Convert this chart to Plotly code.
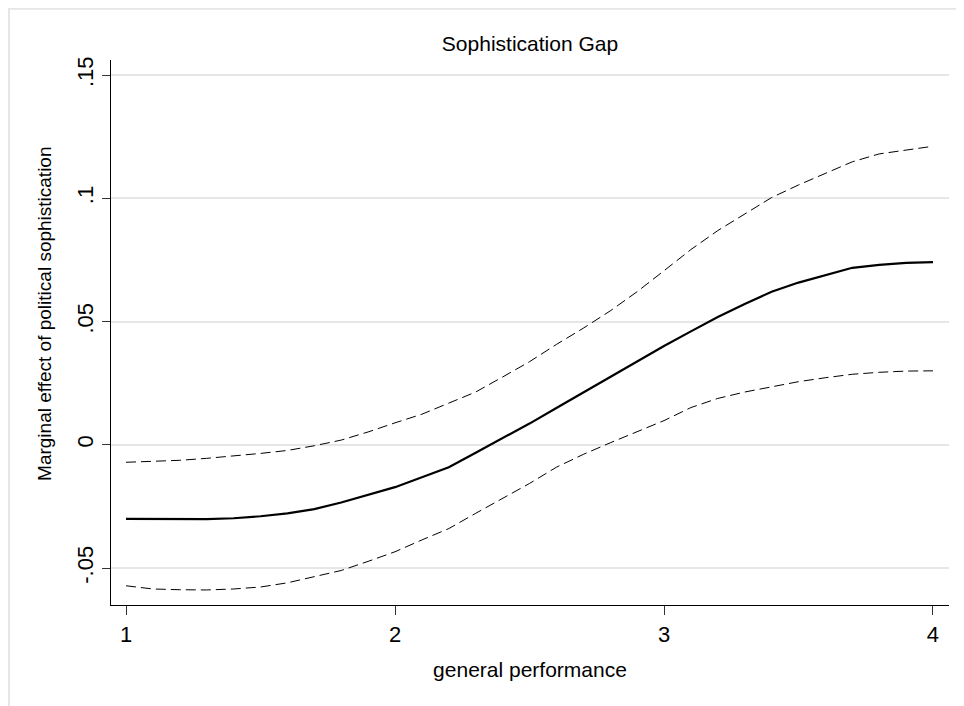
import plotly.graph_objects as go

performance = [1.0, 1.1, 1.2, 1.3, 1.4, 1.5, 1.6, 1.7, 1.8, 1.9, 2.0,
               2.1, 2.2, 2.3, 2.4, 2.5, 2.6, 2.7, 2.8, 2.9, 3.0,
               3.1, 3.2, 3.3, 3.4, 3.5, 3.6, 3.7, 3.8, 3.9, 4.0]

marginal_effect = [-0.0301, -0.0302, -0.0302, -0.0302, -0.0298, -0.0290, -0.0278, -0.0261, -0.0234, -0.0204, -0.0172,
                   -0.0132, -0.0091, -0.0032, 0.0027, 0.0086, 0.0149, 0.0212, 0.0278, 0.0341, 0.0401,
                   0.0460, 0.0518, 0.0571, 0.0621, 0.0658, 0.0689, 0.0718, 0.0730, 0.0738, 0.0741]

upper_ci = [-0.0071, -0.0067, -0.0063, -0.0055, -0.0046, -0.0035, -0.0023, -0.0004, 0.0019, 0.0052, 0.0089,
            0.0124, 0.0169, 0.0214, 0.0275, 0.0337, 0.0407, 0.0473, 0.0543, 0.0621, 0.0706,
            0.0792, 0.0869, 0.0937, 0.1003, 0.1054, 0.1102, 0.1148, 0.1180, 0.1196, 0.1211]

lower_ci = [-0.0572, -0.0585, -0.0588, -0.0589, -0.0585, -0.0577, -0.0560, -0.0534, -0.0510, -0.0473, -0.0434,
            -0.0386, -0.0340, -0.0278, -0.0217, -0.0157, -0.0091, -0.0039, 0.0008, 0.0053, 0.0098,
            0.0151, 0.0188, 0.0214, 0.0234, 0.0256, 0.0272, 0.0286, 0.0294, 0.0299, 0.0300]

x_ticks = [1, 2, 3, 4]
x_tick_labels = ["1", "2", "3", "4"]
y_ticks = [-0.05, 0, 0.05, 0.1, 0.15]
y_tick_labels = ["-.05", "0", ".05", ".1", ".15"]

FONT = "Liberation Sans, Arial, Helvetica, sans-serif"

fig = go.Figure()
fig.add_trace(go.Scatter(x=performance, y=upper_ci, mode="lines",
                         line=dict(color="black", width=1, dash="10px,5px"),
                         showlegend=False, hoverinfo="skip"))
fig.add_trace(go.Scatter(x=performance, y=lower_ci, mode="lines",
                         line=dict(color="black", width=1, dash="10px,5px"),
                         showlegend=False, hoverinfo="skip"))
fig.add_trace(go.Scatter(x=performance, y=marginal_effect, mode="lines",
                         line=dict(color="black", width=2.2),
                         showlegend=False))

# outer frame (partially visible, light grey) along the figure's top and left edges
fig.add_shape(type="line", xref="paper", yref="paper",
              x0=-0.1229, x1=1.03, y0=1.094, y1=1.094,
              line=dict(color="#e6e6e6", width=2), layer="below")
fig.add_shape(type="line", xref="paper", yref="paper",
              x0=-0.1217, x1=-0.1217, y0=1.0954, y1=-0.2,
              line=dict(color="#e6e6e6", width=2), layer="below")

# y-axis title (placed slightly above the plot centre, as in the original)
fig.add_annotation(text="Marginal effect of political sophistication",
                   xref="paper", yref="paper", x=-0.0788, y=0.534,
                   xanchor="center", yanchor="middle", textangle=-90, showarrow=False,
                   font=dict(size=19, family=FONT, color="black"))

fig.update_layout(
    width=964, height=706,
    margin=dict(l=103, r=23, t=52, b=109),
    paper_bgcolor="white", plot_bgcolor="white",
    font=dict(family=FONT, color="black"),
    title=dict(text="Sophistication Gap", x=0.5, xref="paper", y=0.9497, yref="container",
               xanchor="center", yanchor="middle", font=dict(size=21, family=FONT, color="black")),
    xaxis=dict(range=[0.9442, 4.0595], tickvals=x_ticks, ticktext=x_tick_labels,
               showline=True, linecolor="black", linewidth=1.2, mirror=False,
               ticks="outside", ticklen=9, tickwidth=1, tickcolor="#333333",
               showgrid=False, zeroline=False,
               tickfont=dict(size=22, family=FONT, color="black"),
               title=dict(text="general performance", font=dict(size=21, family=FONT, color="black"),
                          standoff=16)),
    yaxis=dict(range=[-0.065, 0.1561], tickvals=y_ticks, ticktext=y_tick_labels,
               showline=True, linecolor="black", linewidth=1.2,
               ticks="outside", ticklen=8, tickwidth=1, tickcolor="#333333",
               tickangle=-90,
               showgrid=True, gridcolor="#e6e6e6", gridwidth=2, zeroline=False,
               tickfont=dict(size=22, family=FONT, color="black")),
)

fig.write_html("out.html")
